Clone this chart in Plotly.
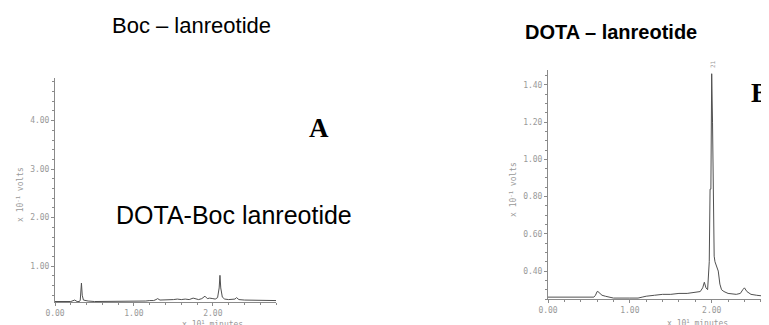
import plotly.graph_objects as go

# Panel A: Boc-lanreotide chromatogram (x in 10^1 minutes, y in 10^-1 volts)
a_time = [0.00, 0.20, 0.25, 0.28, 0.31, 0.32, 0.335, 0.345, 0.36, 0.38, 0.42, 0.50, 0.60, 0.80,
          1.00, 1.10, 1.15, 1.20, 1.25, 1.28, 1.30, 1.33, 1.40, 1.50, 1.55, 1.60, 1.65, 1.70,
          1.75, 1.78, 1.82, 1.86, 1.90, 1.93, 1.96, 2.00, 2.03, 2.06, 2.08, 2.09, 2.10, 2.12,
          2.15, 2.20, 2.25, 2.28, 2.30, 2.33, 2.40, 2.50, 2.60, 2.70, 2.80]
a_volts = [0.27, 0.27, 0.30, 0.27, 0.27, 0.30, 0.65, 0.40, 0.30, 0.29, 0.28, 0.27, 0.27, 0.27,
           0.27, 0.27, 0.28, 0.29, 0.29, 0.31, 0.33, 0.30, 0.30, 0.31, 0.32, 0.31, 0.32, 0.31,
           0.34, 0.32, 0.31, 0.33, 0.38, 0.33, 0.34, 0.33, 0.32, 0.35, 0.55, 0.81, 0.55, 0.36,
           0.32, 0.31, 0.32, 0.32, 0.35, 0.31, 0.30, 0.30, 0.30, 0.29, 0.29]

# Panel B: DOTA-lanreotide chromatogram
b_time = [0.00, 0.50, 0.56, 0.58, 0.60, 0.61, 0.63, 0.66, 0.70, 0.75, 0.80, 1.00, 1.10, 1.15,
          1.20, 1.30, 1.40, 1.50, 1.60, 1.70, 1.80, 1.86, 1.89, 1.91, 1.93, 1.95, 1.97, 1.98,
          1.99, 2.00, 2.01, 2.02, 2.03, 2.04, 2.06, 2.08, 2.10, 2.12, 2.15, 2.20, 2.30, 2.35,
          2.38, 2.40, 2.43, 2.48, 2.55, 2.65, 2.75]
b_volts = [0.26, 0.26, 0.26, 0.27, 0.29, 0.29, 0.28, 0.27, 0.265, 0.26, 0.255, 0.255, 0.255, 0.26,
           0.265, 0.27, 0.275, 0.275, 0.28, 0.28, 0.285, 0.29, 0.31, 0.34, 0.31, 0.30, 0.45, 0.84,
           0.84, 1.46, 1.20, 0.60, 0.48, 0.45, 0.43, 0.40, 0.33, 0.30, 0.29, 0.28, 0.275, 0.28,
           0.30, 0.31, 0.29, 0.275, 0.27, 0.265, 0.265]

a_ticks = [1.0, 2.0, 3.0, 4.0]
a_ticklabels = ["1.00", "2.00", "3.00", "4.00"]
b_ticks = [0.4, 0.6, 0.8, 1.0, 1.2, 1.4]
b_ticklabels = ["0.40", "0.60", "0.80", "1.00", "1.20", "1.40"]
x_ticks = [0.0, 1.0, 2.0]
x_ticklabels = ["0.00", "1.00", "2.00"]

# The page adds an 8px body margin; size the figure to the remaining viewport
OFF = 8
PAGE_W, PAGE_H = 769, 325
W, H = PAGE_W - OFF, PAGE_H - OFF

def px(x):
    return (x - OFF) / W
def py(y):
    return 1 - (y - OFF) / H

line_col = "#505050"
axis_col = "#8a8a8a"
label_col = "#999999"
tick_font = dict(family="DejaVu Sans Mono", size=8, color=label_col)

fig = go.Figure()
fig.add_trace(go.Scatter(x=a_time, y=a_volts, mode="lines", xaxis="x", yaxis="y",
                         line=dict(color=line_col, width=1), showlegend=False))
fig.add_trace(go.Scatter(x=b_time, y=b_volts, mode="lines", xaxis="x2", yaxis="y2",
                         line=dict(color=line_col, width=1), showlegend=False))

common_axis = dict(showgrid=False, zeroline=False, showline=True, linecolor=axis_col, linewidth=1,
                   ticks="outside", ticklen=3, tickcolor=axis_col, tickfont=tick_font,
                   automargin=False)

fig.update_layout(
    width=W, height=H,
    margin=dict(l=0, r=0, t=0, b=0, autoexpand=False),
    paper_bgcolor="white", plot_bgcolor="white",
    xaxis=dict(domain=[px(55), px(276)], range=[0.0, 2.8], anchor="y",
               tickvals=x_ticks, ticktext=x_ticklabels,
               minor=dict(dtick=0.2, ticks="outside", ticklen=2, tickcolor=axis_col),
               **common_axis),
    yaxis=dict(domain=[py(302), py(78)], range=[0.26, 4.88], anchor="x",
               tickvals=a_ticks, ticktext=a_ticklabels,
               minor=dict(dtick=0.2, ticks="outside", ticklen=2, tickcolor=axis_col),
               **common_axis),
    xaxis2=dict(domain=[px(548), 1.0], range=[0.0, 2.70], anchor="y2",
                tickvals=x_ticks, ticktext=x_ticklabels,
                minor=dict(dtick=0.2, ticks="outside", ticklen=2, tickcolor=axis_col),
                **common_axis),
    yaxis2=dict(domain=[py(299), py(70)], range=[0.25, 1.48], anchor="x2",
                tickvals=b_ticks, ticktext=b_ticklabels,
                minor=dict(dtick=0.05, ticks="outside", ticklen=2, tickcolor=axis_col),
                **common_axis),
)

def note(x, y, text, size, family="Liberation Sans", color="black", angle=0, xanchor="center"):
    return dict(x=px(x), y=py(y), xref="paper", yref="paper", text=text, showarrow=False,
                xanchor=xanchor, yanchor="middle", textangle=angle,
                font=dict(family=family, size=size, color=color))

ann = [
    note(191, 25, "Boc – lanreotide", 22),
    note(611, 32, "<b>DOTA – lanreotide</b>", 20),
    note(319, 128, "<b>A</b>", 27, family="Liberation Serif"),
    note(749, 93, "<b>B</b>", 27, family="Liberation Serif", xanchor="left"),
    note(114, 215, "DOTA-Boc lanreotide", 25, xanchor="left"),
    note(20, 195, "x 10<sup>-1</sup> volts", 8, family="DejaVu Sans Mono", color=label_col, angle=-90),
    note(513, 190, "x 10<sup>-1</sup> volts", 8, family="DejaVu Sans Mono", color=label_col, angle=-90),
    note(212, 324, "x 10<sup>1</sup> minutes", 8, family="DejaVu Sans Mono", color=label_col),
    note(697, 323, "x 10<sup>1</sup> minutes", 8, family="DejaVu Sans Mono", color=label_col),
    note(712, 64, "21", 6, family="DejaVu Sans Mono", color=label_col, angle=-90),
]
fig.update_layout(annotations=ann)

fig.write_html("out.html")
